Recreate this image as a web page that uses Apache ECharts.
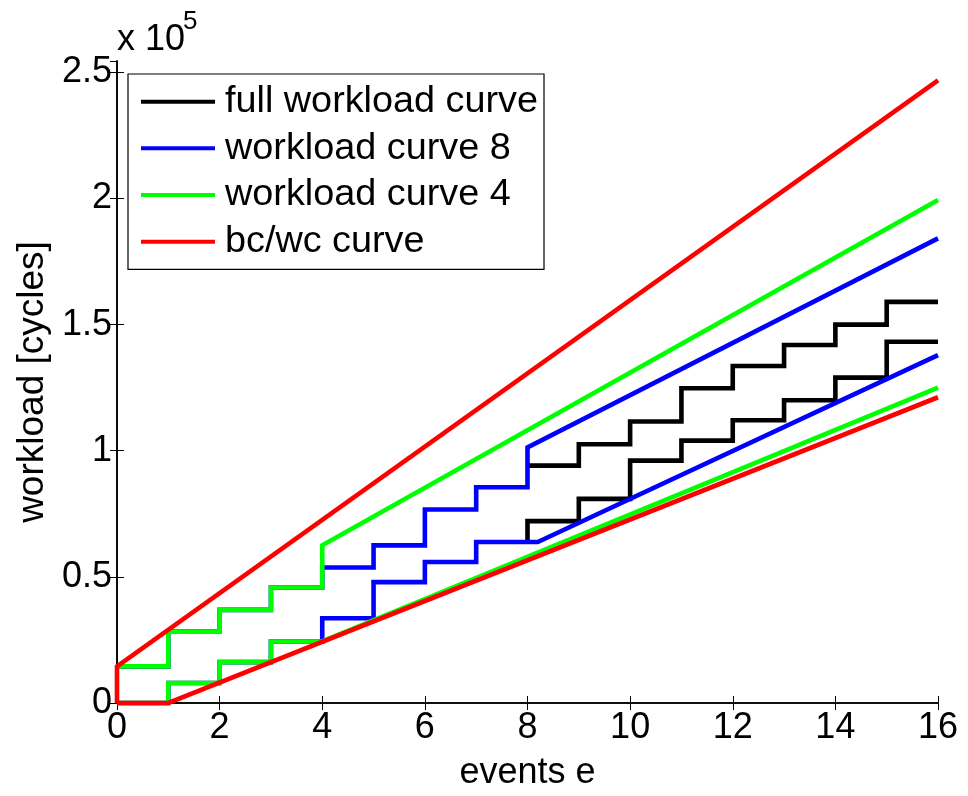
<!DOCTYPE html>
<html>
<head>
<meta charset="utf-8">
<script src="https://cdn.jsdelivr.net/npm/echarts@6/dist/echarts.min.js"></script>
<style>html,body{margin:0;padding:0;background:#fff;}#c{width:968px;height:796px;}</style>
</head>
<body>
<div id="c"></div>
<script>
var xTicks = [0, 2, 4, 6, 8, 10, 12, 14, 16];
var yTickLabels = ['0', '0.5', '1', '1.5', '2', '2.5'];

var fullUpper = [[8,94100],[9,94100],[9,102600],[10,102600],[10,111600],[11,111600],[11,124800],[12,124800],[12,133600],[13,133600],[13,141900],[14,141900],[14,150000],[15,150000],[15,159000],[16,159000]];
var fullLower = [[8,63800],[8,72100],[9,72100],[9,80900],[10,80900],[10,96100],[11,96100],[11,104000],[12,104000],[12,112100],[13,112100],[13,120000],[14,120000],[14,129000],[15,129000],[15,143200],[16,143200]];

var wc8Upper = [[0,14500],[1,14500],[1,28300],[2,28300],[2,36900],[3,36900],[3,45800],[4,45800],[4,53700],[5,53700],[5,62500],[6,62500],[6,76700],[7,76700],[7,85500],[8,85500],[8,101300],[16,184200]];
var wc8Lower = [[0,0],[1,0],[1,7900],[2,7900],[2,16200],[3,16200],[3,24400],[4,24400],[4,33600],[5,33600],[5,47900],[6,47900],[6,55900],[7,55900],[7,63800],[8,63800],[8.2,63800],[16,137900]];

var wc4Upper = [[0,14500],[1,14500],[1,28300],[2,28300],[2,36900],[3,36900],[3,45800],[4,45800],[4,62500],[16,199400]];
var wc4Lower = [[0,0],[1,0],[1,7900],[2,7900],[2,16200],[3,16200],[3,24400],[4,24400],[16,125000]];

var bcwcUpper = [[0,0],[0,14500],[16,246800]];
var bcwcLower = [[0,0],[1,0],[16,121200]];

var FONT = 'Liberation Sans';
var LW = 4.6;

function mk(name, data, color) {
  return {
    name: name, type: 'line', data: data, symbol: 'none', clip: false,
    lineStyle: { color: color, width: LW, join: 'miter', cap: 'butt' },
    itemStyle: { color: color },
    emphasis: { disabled: true },
    animation: false
  };
}

var chart = echarts.init(document.getElementById('c'), null, { renderer: 'canvas' });
chart.setOption({
  animation: false,
  backgroundColor: '#fff',
  grid: { left: 117, right: 30, top: 61, bottom: 89.3, containLabel: false },
  xAxis: [{
    type: 'value', min: 0, max: 16, interval: 2,
    name: 'events e', nameLocation: 'middle', nameGap: 52,
    nameTextStyle: { fontSize: 36, fontFamily: FONT, color: '#000' },
    axisLine: { show: true, lineStyle: { color: '#000', width: 1.6 } },
    axisTick: { show: true, inside: true, length: 7, lineStyle: { color: '#000', width: 1 } },
    axisLabel: { fontSize: 36, fontFamily: FONT, color: '#000', margin: 7,
      formatter: function (v) { return xTicks.indexOf(v) >= 0 ? String(v) : ''; } },
    splitLine: { show: false }
  }, {
    type: 'value', min: 0, max: 16, interval: 2, position: 'top',
    axisLine: { show: true, lineStyle: { color: '#000', width: 1.6 } },
    axisTick: { show: true, inside: true, length: 7, lineStyle: { color: '#000', width: 1 } },
    axisLabel: { show: false }, splitLine: { show: false }
  }],
  yAxis: [{
    type: 'value', min: 0, max: 254500, interval: 50000,
    name: 'workload [cycles]', nameLocation: 'middle', nameGap: 58,
    nameTextStyle: { fontSize: 37, fontFamily: FONT, color: '#000' },
    axisLine: { show: true, lineStyle: { color: '#000', width: 1.6 } },
    axisTick: { show: true, inside: true, length: 7, lineStyle: { color: '#000', width: 1 } },
    axisLabel: { fontSize: 36, fontFamily: FONT, color: '#000', margin: 5, showMaxLabel: false,
      formatter: function (v) { var i = Math.round(v / 50000); return (Math.abs(v - i * 50000) < 1 && yTickLabels[i] !== undefined) ? yTickLabels[i] : ''; } },
    splitLine: { show: false }
  }, {
    type: 'value', min: 0, max: 254500, interval: 50000, position: 'right',
    axisLine: { show: true, lineStyle: { color: '#000', width: 1.6 } },
    axisTick: { show: true, inside: true, length: 7, lineStyle: { color: '#000', width: 1 } },
    axisLabel: { show: false }, splitLine: { show: false }
  }],
  legend: {
    orient: 'vertical', left: 128, top: 74,
    data: ['full workload curve', 'workload curve 8', 'workload curve 4', 'bc/wc curve'],
    icon: 'rect', itemWidth: 74, itemHeight: 4, itemGap: 6.67,
    padding: [7.7, 6, 7.6, 13],
    backgroundColor: '#fff', borderColor: '#000', borderWidth: 1.2, borderRadius: 0,
    textStyle: { fontSize: 37.8, fontFamily: FONT, color: '#000', lineHeight: 40, padding: [0, 0, 0, 5] },
    selectedMode: false
  },
  graphic: [
    { type: 'text', x: 117, y: 40, style: { text: 'x 10', fontSize: 36, fontFamily: FONT, fill: '#000', align: 'left', verticalAlign: 'middle' } },
    { type: 'text', x: 183, y: 22, style: { text: '5', fontSize: 26, fontFamily: FONT, fill: '#000', align: 'left', verticalAlign: 'middle' } }
  ],
  series: [
    mk('full workload curve', fullUpper, '#000000'),
    mk('full workload curve', fullLower, '#000000'),
    mk('workload curve 8', wc8Upper, '#0000ff'),
    mk('workload curve 8', wc8Lower, '#0000ff'),
    mk('workload curve 4', wc4Upper, '#00ff00'),
    mk('workload curve 4', wc4Lower, '#00ff00'),
    mk('bc/wc curve', bcwcUpper, '#ff0000'),
    mk('bc/wc curve', bcwcLower, '#ff0000')
  ]
});
</script>
</body>
</html>
